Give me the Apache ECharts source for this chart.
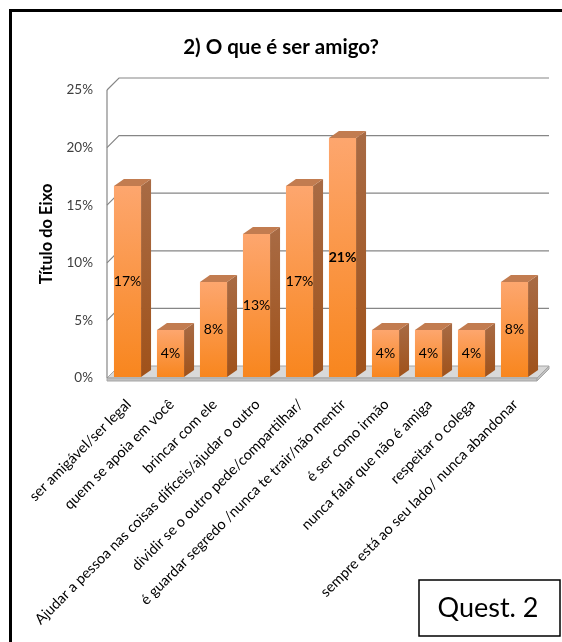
<!DOCTYPE html>
<html><head><meta charset="utf-8">
<script src="https://cdn.jsdelivr.net/npm/echarts@6/dist/echarts.min.js"></script>
<style>html,body{margin:0;padding:0;background:#fff}#c{width:562px;height:642px}</style>
</head><body><div id="c"></div>
<script>
var categories = [
  'ser amigável/ser legal',
  'quem se apoia em você',
  'brincar com ele',
  'Ajudar a pessoa nas coisas difíceis/ajudar o outro',
  'dividir se o outro pede/compartilhar/',
  'é guardar segredo /nunca te trair/não mentir',
  'é ser como irmão',
  'nunca falar que não é amiga',
  'respeitar o colega',
  'sempre está ao seu lado/ nunca abandonar'
];
var values = [0.1667, 0.0417, 0.0833, 0.125, 0.1667, 0.2083, 0.0417, 0.0417, 0.0417, 0.0833];
var yTicks = [0, 0.05, 0.10, 0.15, 0.20, 0.25];

var FONT = 'Lato, "Open Sans", sans-serif';
var DX = 12, DY = 12;      // wall depth
var BDX = 10, BDY = 7;     // bar depth
var maxVal = Math.max.apply(null, values);

var chart = echarts.init(document.getElementById('c'), null, {renderer: 'canvas'});

function pct(v) { return Math.round(v * 100) + '%'; }

var option = {
  animation: false,
  title: {
    text: '2) O que é ser amigo?', left: 'center', top: 32,
    textStyle: {fontFamily: FONT, fontWeight: 'bold', fontSize: 20.5, color: '#000'}
  },
  grid: {left: 107, right: 25, top: 90, bottom: 264},
  xAxis: {
    type: 'category', data: categories,
    axisLine: {show: false}, axisTick: {show: false},
    axisLabel: {rotate: 45, interval: 0, margin: 24, fontFamily: FONT, fontSize: 14.5, color: '#000'}
  },
  yAxis: {
    type: 'value', min: 0, max: 0.25, interval: 0.05,
    name: 'Título do Eixo', nameLocation: 'middle', nameGap: 51, nameRotate: 90,
    nameTextStyle: {fontFamily: FONT, fontWeight: 'bold', fontSize: 16.5, color: '#000'},
    axisLine: {show: false}, axisTick: {show: false}, splitLine: {show: false},
    axisLabel: {formatter: function (v) { return Math.round(v * 100) + '%'; }, margin: 14,
      fontFamily: FONT, fontSize: 13.5, color: '#404040'}
  },
  graphic: [
    {type: 'rect', shape: {x: 10.5, y: 10.5, width: 700, height: 700}, style: {fill: 'none', stroke: '#000', lineWidth: 3}, z: 100},
    {type: 'rect', shape: {x: 419, y: 580, width: 141, height: 56}, style: {fill: '#fff', stroke: '#000', lineWidth: 1.5}, z: 100},
    {type: 'text', x: 488, y: 608, style: {text: 'Quest. 2', fontFamily: FONT, fontSize: 27, fill: '#000', align: 'center', verticalAlign: 'middle'}, z: 101}
  ],
  series: [
    {
      // back wall, left wall and floor
      type: 'custom', z: 1, silent: true,
      data: yTicks.map(function (t) { return [0, t]; }),
      renderItem: function (params, api) {
        var cs = params.coordSys;
        var y = api.coord([0, api.value(1)])[1];
        var x0 = cs.x, x1 = cs.x + cs.width;
        var children = [];
        if (api.value(1) === 0) {
          children.push({type: 'polygon', shape: {points: [[x0, y], [x1, y], [x1 + DX, y - DY], [x0 + DX, y - DY]]},
            style: {fill: '#D9D9D9', stroke: '#A6A6A6', lineWidth: 1}});
          children.push({type: 'rect', shape: {x: x0, y: y, width: cs.width, height: 3},
            style: {fill: '#BFBFBF', stroke: '#A6A6A6', lineWidth: 1}});
          children.push({type: 'polygon', shape: {points: [[x1, y], [x1 + DX, y - DY], [x1 + DX, y - DY + 3], [x1, y + 3]]},
            style: {fill: '#BFBFBF', stroke: '#A6A6A6', lineWidth: 1}});
          var yTop = api.coord([0, 0.25])[1];
          children.push({type: 'line', shape: {x1: x0, y1: yTop, x2: x0, y2: y}, style: {stroke: '#868686', lineWidth: 1.2}});
        } else {
          children.push({type: 'polyline', shape: {points: [[x0, y], [x0 + DX, y - DY], [x1 + DX, y - DY]]},
            style: {fill: 'none', stroke: '#868686', lineWidth: 1.2}});
        }
        return {type: 'group', children: children};
      }
    },
    {
      type: 'custom', z: 5,
      data: values.map(function (v, i) { return [i, v]; }),
      renderItem: function (params, api) {
        var i = api.value(0), v = api.value(1);
        var top = api.coord([i, v]);
        var base = api.coord([i, 0]);
        var w = api.size([1, 0])[0] * 0.63;
        var x = top[0] - w / 2 - 1;
        var yT = top[1], yB = base[1] - 1;
        return {
          type: 'group',
          children: [
            {type: 'polygon', shape: {points: [[x + w, yT], [x + w + BDX, yT - BDY], [x + w + BDX, yB - BDY], [x + w, yB]]},
              style: {fill: new echarts.graphic.LinearGradient(0, 0, 0, 1, [{offset: 0, color: '#A86B45'}, {offset: 1, color: '#A0521A'}])}},
            {type: 'polygon', shape: {points: [[x, yT], [x + BDX, yT - BDY], [x + w + BDX, yT - BDY], [x + w, yT]]},
              style: {fill: '#C27C50'}},
            {type: 'rect', shape: {x: x, y: yT, width: w, height: yB - yT},
              style: {fill: new echarts.graphic.LinearGradient(0, 0, 0, 1, [{offset: 0, color: '#FDA66E'}, {offset: 1, color: '#F8861E'}])}},
            {type: 'text', x: x + w / 2, y: (yT + yB) / 2,
              style: {text: pct(v), fontFamily: FONT, fontSize: 14, fontWeight: v === maxVal ? 'bold' : 'normal',
                fill: '#000', align: 'center', verticalAlign: 'middle'}}
          ]
        };
      }
    }
  ]
};
chart.setOption(option);
</script>
</body></html>
